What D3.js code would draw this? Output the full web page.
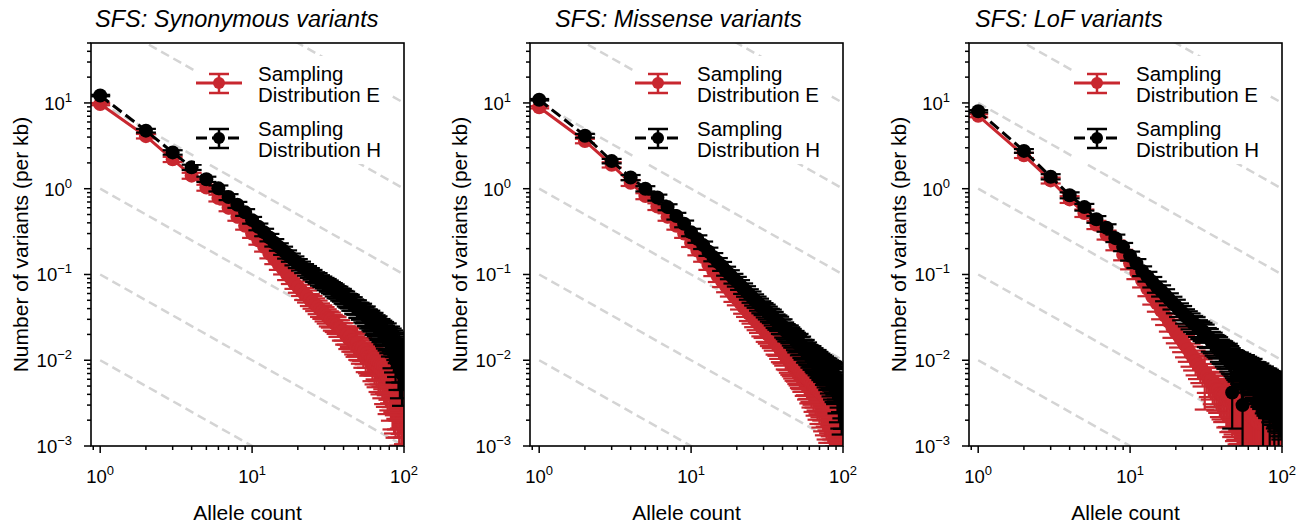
<!DOCTYPE html>
<html>
<head>
<meta charset="utf-8">
<script src="https://cdn.jsdelivr.net/npm/d3@7"></script>
<style>
  body { margin: 0; background: #fff; }
  svg text { font-family: "Liberation Sans", Arial, sans-serif; fill: #000; }
</style>
</head>
<body>
<script>
// allele counts 1..100 (x categories)
const alleleCounts = d3.range(1, 101);

const titles = ["SFS: Synonymous variants", "SFS: Missense variants", "SFS: LoF variants"];
const seriesNames = ["Sampling\nDistribution E", "Sampling\nDistribution H"];
const xMajor = [1, 10, 100];
const yMajor = [1e-3, 1e-2, 1e-1, 1, 10];
// grey guide lines y = c / x, c at x = 1
const guideLevels = [1e-2, 1e-1, 1, 10, 100, 1000];

// ---- Synonymous ----
const synE = [9.7, 4.1, 2.2, 1.42, 1.03, 0.78, 0.60, 0.47, 0.37, 0.30,
  0.25, 0.21, 0.175, 0.15, 0.13, 0.115, 0.10, 0.09, 0.079, 0.072,
  0.066, 0.06, 0.056, 0.051, 0.048, 0.045, 0.042, 0.039, 0.037, 0.035,
  0.033, 0.031, 0.030, 0.028, 0.027, 0.026, 0.024, 0.024, 0.022, 0.022,
  0.020, 0.020, 0.018, 0.019, 0.017, 0.017, 0.016, 0.015, 0.016, 0.014,
  0.014, 0.013, 0.014, 0.012, 0.013, 0.011, 0.012, 0.011, 0.010, 0.011,
  0.0105, 0.0095, 0.0105, 0.009, 0.0098, 0.0088, 0.0095, 0.0082, 0.009, 0.008,
  0.0088, 0.0075, 0.0085, 0.007, 0.008, 0.0068, 0.0078, 0.0062, 0.0072, 0.0065,
  0.007, 0.0058, 0.0066, 0.0052, 0.0062, 0.005, 0.006, 0.0048, 0.0056, 0.0052,
  0.0045, 0.0055, 0.0042, 0.005, 0.0046, 0.004, 0.0052, 0.0038, 0.0045, 0.0042];
const synEerr = [.03, .06, .07, .08, .08, .09, .09, .1, .1, .11,
  .11, .12, .12, .12, .13, .13, .14, .14, .14, .15,
  .15, .16, .16, .16, .17, .17, .18, .18, .18, .19,
  .19, .2, .2, .21, .21, .22, .22, .22, .23, .23,
  .24, .24, .25, .25, .26, .26, .27, .27, .28, .28,
  .29, .3, .3, .32, .31, .34, .32, .36, .34, .37,
  .36, .4, .37, .42, .39, .45, .4, .48, .42, .5,
  .44, .52, .46, .56, .48, .58, .5, .62, .52, .6,
  .55, .66, .57, .7, .6, .72, .62, .74, .63, .7,
  .72, .64, .76, .68, .7, .78, .66, .8, .72, .75];
const synH = [12.2, 4.75, 2.65, 1.78, 1.29, 1.01, 0.80, 0.65, 0.53, 0.43,
  0.36, 0.31, 0.27, 0.235, 0.21, 0.19, 0.172, 0.158, 0.145, 0.135,
  0.126, 0.118, 0.111, 0.105, 0.100, 0.094, 0.091, 0.086, 0.083, 0.080,
  0.077, 0.074, 0.071, 0.069, 0.066, 0.063, 0.062, 0.059, 0.058, 0.055,
  0.054, 0.051, 0.050, 0.049, 0.046, 0.046, 0.043, 0.042, 0.042, 0.039,
  0.039, 0.037, 0.038, 0.035, 0.034, 0.035, 0.032, 0.032, 0.030, 0.031,
  0.029, 0.028, 0.029, 0.026, 0.027, 0.025, 0.026, 0.024, 0.023, 0.024,
  0.022, 0.023, 0.021, 0.022, 0.020, 0.019, 0.021, 0.018, 0.019, 0.017,
  0.019, 0.016, 0.018, 0.013, 0.017, 0.012, 0.016, 0.010, 0.015, 0.011,
  0.014, 0.009, 0.015, 0.008, 0.013, 0.010, 0.007, 0.012, 0.009, 0.011];
const synHerr = [.02, .05, .06, .07, .07, .08, .08, .08, .09, .09,
  .09, .1, .1, .1, .1, .11, .11, .11, .12, .12,
  .12, .12, .13, .13, .13, .13, .14, .14, .14, .14,
  .15, .15, .15, .15, .16, .16, .16, .16, .17, .17,
  .17, .17, .18, .18, .18, .18, .19, .19, .19, .2,
  .2, .2, .2, .21, .21, .21, .22, .22, .22, .22,
  .23, .23, .23, .24, .24, .24, .25, .25, .25, .26,
  .26, .26, .27, .27, .27, .28, .28, .28, .29, .29,
  .3, .31, .3, .38, .31, .4, .32, .45, .33, .42,
  .34, .5, .34, .55, .36, .45, .58, .38, .5, .42];

// ---- Missense ----
const misE = [8.9, 3.6, 1.9, 1.17, 0.82, 0.62, 0.47, 0.37, 0.30, 0.235,
  0.19, 0.16, 0.13, 0.11, 0.095, 0.083, 0.073, 0.065, 0.057, 0.052,
  0.047, 0.042, 0.039, 0.035, 0.033, 0.030, 0.028, 0.026, 0.024, 0.023,
  0.021, 0.020, 0.019, 0.018, 0.017, 0.0155, 0.015, 0.014, 0.013, 0.0125,
  0.012, 0.011, 0.0108, 0.0102, 0.0098, 0.0094, 0.009, 0.0086, 0.0084, 0.008,
  0.0078, 0.0074, 0.0072, 0.0069, 0.0068, 0.0064, 0.0063, 0.006, 0.0059, 0.0056,
  0.0056, 0.0052, 0.0054, 0.005, 0.0051, 0.0047, 0.0049, 0.0045, 0.0047, 0.0043,
  0.0045, 0.0041, 0.0043, 0.0039, 0.0041, 0.0037, 0.004, 0.0035, 0.0038, 0.0034,
  0.0037, 0.0032, 0.0036, 0.003, 0.0035, 0.0029, 0.0034, 0.0028, 0.0033, 0.0027,
  0.0032, 0.0026, 0.003, 0.0025, 0.0029, 0.0024, 0.0028, 0.0023, 0.0027, 0.0022];
const misEerr = [.03, .06, .07, .08, .08, .09, .1, .1, .11, .11,
  .12, .12, .13, .13, .14, .14, .15, .15, .16, .16,
  .17, .17, .18, .18, .19, .19, .2, .2, .21, .21,
  .22, .22, .23, .23, .24, .25, .25, .26, .27, .27,
  .28, .29, .29, .3, .31, .31, .32, .33, .33, .34,
  .35, .36, .36, .38, .37, .4, .38, .42, .4, .44,
  .42, .46, .44, .5, .45, .52, .47, .55, .5, .58,
  .52, .6, .54, .62, .56, .64, .58, .66, .6, .68,
  .62, .7, .64, .72, .66, .74, .68, .76, .7, .78,
  .72, .8, .74, .82, .76, .84, .78, .86, .8, .88];
const misH = [10.9, 4.15, 2.1, 1.35, 1.0, 0.79, 0.61, 0.48, 0.39, 0.31,
  0.26, 0.22, 0.185, 0.16, 0.14, 0.125, 0.11, 0.10, 0.09, 0.083,
  0.076, 0.069, 0.064, 0.059, 0.055, 0.051, 0.048, 0.045, 0.042, 0.040,
  0.038, 0.036, 0.034, 0.033, 0.031, 0.029, 0.028, 0.027, 0.025, 0.025,
  0.023, 0.022, 0.021, 0.021, 0.020, 0.019, 0.018, 0.018, 0.017, 0.016,
  0.0165, 0.015, 0.0152, 0.014, 0.0135, 0.0138, 0.0125, 0.0128, 0.012, 0.0118,
  0.0112, 0.0115, 0.0106, 0.0108, 0.0102, 0.0098, 0.0102, 0.0094, 0.0096, 0.0089,
  0.0092, 0.0085, 0.0088, 0.0082, 0.0084, 0.0077, 0.008, 0.0073, 0.0078, 0.0069,
  0.0074, 0.0066, 0.0072, 0.0063, 0.007, 0.006, 0.0067, 0.0058, 0.0065, 0.0056,
  0.0058, 0.0048, 0.0055, 0.0042, 0.005, 0.0038, 0.0046, 0.0034, 0.0042, 0.0036];
const misHerr = [.02, .05, .06, .07, .07, .08, .08, .09, .09, .1,
  .1, .1, .11, .11, .11, .12, .12, .12, .13, .13,
  .13, .14, .14, .14, .15, .15, .15, .16, .16, .16,
  .17, .17, .17, .18, .18, .18, .19, .19, .19, .2,
  .2, .2, .21, .21, .21, .22, .22, .22, .23, .23,
  .23, .24, .24, .24, .25, .25, .25, .26, .26, .26,
  .27, .27, .27, .28, .28, .28, .29, .29, .3, .3,
  .3, .31, .31, .32, .32, .33, .33, .34, .34, .35,
  .35, .38, .36, .4, .37, .42, .38, .44, .39, .45,
  .4, .5, .42, .55, .44, .58, .46, .6, .5, .56];

// ---- LoF ----
const lofE = [7.1, 2.45, 1.25, 0.75, 0.52, 0.38, 0.29, 0.22, 0.17, 0.135,
  0.105, 0.085, 0.068, 0.055, 0.046, 0.038, 0.033, 0.028, 0.024, 0.021,
  0.019, 0.017, 0.015, 0.0135, 0.012, 0.011, 0.0098, 0.009, 0.0082, 0.0076,
  0.007, 0.0066, 0.006, 0.0058, 0.0052, 0.005, 0.0046, 0.0045, 0.0041, 0.004,
  0.0038, 0.004, 0.0035, 0.0037, 0.0033, 0.0035, 0.0031, 0.0034, 0.003, 0.0032,
  0.0029, 0.0031, 0.0027, 0.003, 0.0026, 0.0029, 0.0025, 0.0028, 0.0024, 0.0027,
  0.0023, 0.0026, 0.0022, 0.0026, 0.0021, 0.0025, 0.002, 0.0025, 0.0019, 0.0024,
  0.0021, 0.0024, 0.0018, 0.0023, 0.002, 0.0022, 0.0017, 0.0023, 0.0019, 0.0021,
  0.0016, 0.0022, 0.0018, 0.0021, 0.0015, 0.002, 0.0014, 0.0021, 0.0017, 0.0019,
  0.0014, 0.002, 0.0016, 0.0018, 0.0013, 0.0019, 0.0015, 0.0017, 0.0012, 0.0016];
const lofEerr = [.04, .07, .08, .09, .1, .11, .12, .13, .14, .15,
  .16, .17, .18, .19, .2, .21, .22, .23, .24, .25,
  .26, .27, .28, .29, .3, .31, .32, .33, .34, .35,
  .62, .37, .38, .4, .41, .43, .44, .46, .47, .49,
  .5, .52, .53, .55, .56, .58, .59, .6, .62, .63,
  .64, .66, .67, .68, .7, .71, .72, .73, .74, .75,
  .76, .78, .77, .8, .79, .82, .8, .84, .81, .85,
  .82, .86, .83, .87, .84, .88, .85, .88, .86, .89,
  .86, .9, .87, .9, .88, .91, .88, .91, .89, .92,
  .89, .92, .9, .93, .9, .93, .91, .94, .91, .94];
const lofH = [8.0, 2.76, 1.38, 0.84, 0.61, 0.44, 0.35, 0.265, 0.21, 0.165,
  0.135, 0.11, 0.095, 0.082, 0.072, 0.065, 0.058, 0.052, 0.047, 0.043,
  0.039, 0.036, 0.033, 0.031, 0.029, 0.027, 0.026, 0.024, 0.023, 0.022,
  0.021, 0.019, 0.0185, 0.017, 0.0165, 0.0155, 0.015, 0.0145, 0.0135, 0.013,
  0.0128, 0.0122, 0.0115, 0.0118, 0.011, 0.0104, 0.0042, 0.0098, 0.0095, 0.0092,
  0.0088, 0.009, 0.0084, 0.0086, 0.003, 0.008, 0.0082, 0.0076, 0.0078, 0.0072,
  0.0075, 0.007, 0.0068, 0.0072, 0.0064, 0.0066, 0.0062, 0.0065, 0.0058, 0.006,
  0.0062, 0.0056, 0.0058, 0.0054, 0.0025, 0.0056, 0.005, 0.0053, 0.0048, 0.0052,
  0.0046, 0.005, 0.0028, 0.0048, 0.0044, 0.0047, 0.0042, 0.0045, 0.0022, 0.0044,
  0.004, 0.0043, 0.0038, 0.0042, 0.0018, 0.004, 0.0036, 0.0039, 0.0034, 0.0038];
const lofHerr = [.03, .05, .07, .08, .09, .09, .1, .1, .11, .12,
  .12, .13, .13, .14, .15, .15, .16, .16, .17, .18,
  .18, .19, .19, .2, .21, .21, .22, .22, .23, .24,
  .24, .25, .25, .26, .27, .27, .28, .28, .29, .3,
  .3, .31, .31, .32, .33, .33, .62, .34, .35, .36,
  .36, .37, .37, .38, .68, .39, .4, .4, .41, .42,
  .42, .43, .43, .44, .45, .45, .46, .46, .47, .48,
  .48, .49, .49, .5, .72, .51, .52, .52, .53, .54,
  .54, .55, .7, .56, .57, .57, .58, .58, .75, .6,
  .6, .61, .61, .62, .8, .63, .64, .64, .65, .66];

const panelData = [
  { E: synE, Eerr: synEerr, H: synH, Herr: synHerr },
  { E: misE, Eerr: misEerr, H: misH, Herr: misHerr },
  { E: lofE, Eerr: lofEerr, H: lofH, Herr: lofHerr }
];

const W = 1307, H = 529;
const red = "#c8272f";
const panelLeft = [91, 530, 969];
const titleX = [95, 555, 975];
const pw = 313, plotTop = 43, plotBottom = 446;

const svg = d3.select("body").append("svg")
  .attr("width", W)
  .attr("height", H);

// "10" with superscript exponent
const addPow = (sel, v, supSize) => {
  const e = Math.round(Math.log10(v));
  sel.append("tspan").text("10");
  sel.append("tspan")
    .attr("font-size", supSize)
    .attr("dy", -8)
    .text(e < 0 ? "\u2212" + (-e) : String(e));
};

panelData.forEach((p, i) => {
  const left = panelLeft[i];
  const x = d3.scaleLog().domain([0.87, 100]).range([left, left + pw]);
  const y = d3.scaleLog().domain([1e-3, 50]).range([plotBottom, plotTop]);

  svg.append("clipPath").attr("id", "clip" + i)
    .append("rect")
    .attr("x", left).attr("y", plotTop)
    .attr("width", pw).attr("height", plotBottom - plotTop);

  const plot = svg.append("g").attr("clip-path", `url(#clip${i})`);

  // guide lines
  plot.selectAll("line.guide")
    .data(guideLevels)
    .join("line")
    .attr("class", "guide")
    .attr("x1", x(1)).attr("x2", x(100))
    .attr("y1", c => y(c)).attr("y2", c => y(c / 100))
    .attr("stroke", "#d4d4d4")
    .attr("stroke-width", 2.5)
    .attr("stroke-dasharray", "9,5");

  const drawSeries = (vals, errs, color, dash) => {
    const pts = alleleCounts.map((k, j) => ({
      k: k, v: vals[j],
      lo: Math.max(vals[j] * (1 - errs[j]), 1e-6),
      hi: vals[j] * (1 + errs[j])
    }));
    const eb = plot.append("g")
      .attr("stroke", color)
      .attr("stroke-width", 2.2);
    eb.selectAll("line.bar").data(pts).join("line")
      .attr("class", "bar")
      .attr("x1", d => x(d.k)).attr("x2", d => x(d.k))
      .attr("y1", d => y(d.lo)).attr("y2", d => y(d.hi));
    ["lo", "hi"].forEach(key => {
      eb.selectAll("line.cap" + key).data(pts).join("line")
        .attr("class", "cap" + key)
        .attr("x1", d => x(d.k) - 10).attr("x2", d => x(d.k) + 10)
        .attr("y1", d => y(d[key])).attr("y2", d => y(d[key]));
    });
    plot.append("path")
      .datum(pts)
      .attr("d", d3.line().x(d => x(d.k)).y(d => y(d.v)))
      .attr("fill", "none")
      .attr("stroke", color)
      .attr("stroke-width", 3)
      .attr("stroke-dasharray", dash);
    plot.append("g").selectAll("circle").data(pts).join("circle")
      .attr("cx", d => x(d.k))
      .attr("cy", d => y(d.v))
      .attr("r", 7)
      .attr("fill", color);
  };

  drawSeries(p.E, p.Eerr, red, null);
  drawSeries(p.H, p.Herr, "#000", "11,5");

  // ticks
  const ax = svg.append("g").attr("stroke", "#000").attr("stroke-width", 1.5);
  const isMajor = v => Math.abs(Math.log10(v) - Math.round(Math.log10(v))) < 1e-6;
  ax.selectAll("line.xt").data(x.ticks()).join("line")
    .attr("class", "xt")
    .attr("x1", d => x(d)).attr("x2", d => x(d))
    .attr("y1", plotBottom).attr("y2", d => plotBottom + (isMajor(d) ? 7 : 4));
  ax.selectAll("line.yt").data(y.ticks()).join("line")
    .attr("class", "yt")
    .attr("y1", d => y(d)).attr("y2", d => y(d))
    .attr("x1", left).attr("x2", d => left - (isMajor(d) ? 7 : 4));

  // tick labels
  xMajor.forEach(v => {
    const t = svg.append("text")
      .attr("x", x(v)).attr("y", 483)
      .attr("text-anchor", "middle")
      .attr("font-size", 18.5);
    addPow(t, v, 13);
  });
  yMajor.forEach(v => {
    const t = svg.append("text")
      .attr("x", left - 19).attr("y", y(v) + 7)
      .attr("text-anchor", "end")
      .attr("font-size", 18.5);
    addPow(t, v, 13);
  });

  // frame
  svg.append("rect")
    .attr("x", left).attr("y", plotTop)
    .attr("width", pw).attr("height", plotBottom - plotTop)
    .attr("fill", "none")
    .attr("stroke", "#000")
    .attr("stroke-width", 1.6);

  // titles and axis labels
  svg.append("text")
    .attr("x", titleX[i]).attr("y", 27)
    .attr("font-size", 23.5)
    .attr("font-style", "italic")
    .text(titles[i]);
  svg.append("text")
    .attr("x", left + pw / 2).attr("y", 520)
    .attr("text-anchor", "middle")
    .attr("font-size", 21)
    .text("Allele count");
  svg.append("text")
    .attr("transform", `translate(${left - 63},${(plotTop + plotBottom) / 2}) rotate(-90)`)
    .attr("text-anchor", "middle")
    .attr("font-size", 21)
    .text("Number of variants (per kb)");

  // legend
  const lg = svg.append("g");
  lg.append("rect")
    .attr("x", left + 104).attr("y", 56)
    .attr("width", 197).attr("height", 108)
    .attr("fill", "#fff");
  [[red, null, 83], ["#000", "11,5", 138]].forEach(([color, dash, cy], s) => {
    const cx = left + 128;
    lg.append("line")
      .attr("x1", left + 105).attr("x2", left + 151)
      .attr("y1", cy).attr("y2", cy)
      .attr("stroke", color).attr("stroke-width", 3)
      .attr("stroke-dasharray", dash);
    lg.append("line")
      .attr("x1", cx).attr("x2", cx)
      .attr("y1", cy - 9).attr("y2", cy + 10)
      .attr("stroke", color).attr("stroke-width", 2.5);
    [cy - 9, cy + 10].forEach(cyy => {
      lg.append("line")
        .attr("x1", cx - 10).attr("x2", cx + 10)
        .attr("y1", cyy).attr("y2", cyy)
        .attr("stroke", color).attr("stroke-width", 2.5);
    });
    lg.append("circle")
      .attr("cx", cx).attr("cy", cy).attr("r", 6)
      .attr("fill", color);
    const lines = seriesNames[s].split("\n");
    lines.forEach((ln, k) => {
      lg.append("text")
        .attr("x", left + 167)
        .attr("y", cy - 2 + k * 21)
        .attr("font-size", 20.5)
        .text(ln);
    });
  });
});
</script>
</body>
</html>
